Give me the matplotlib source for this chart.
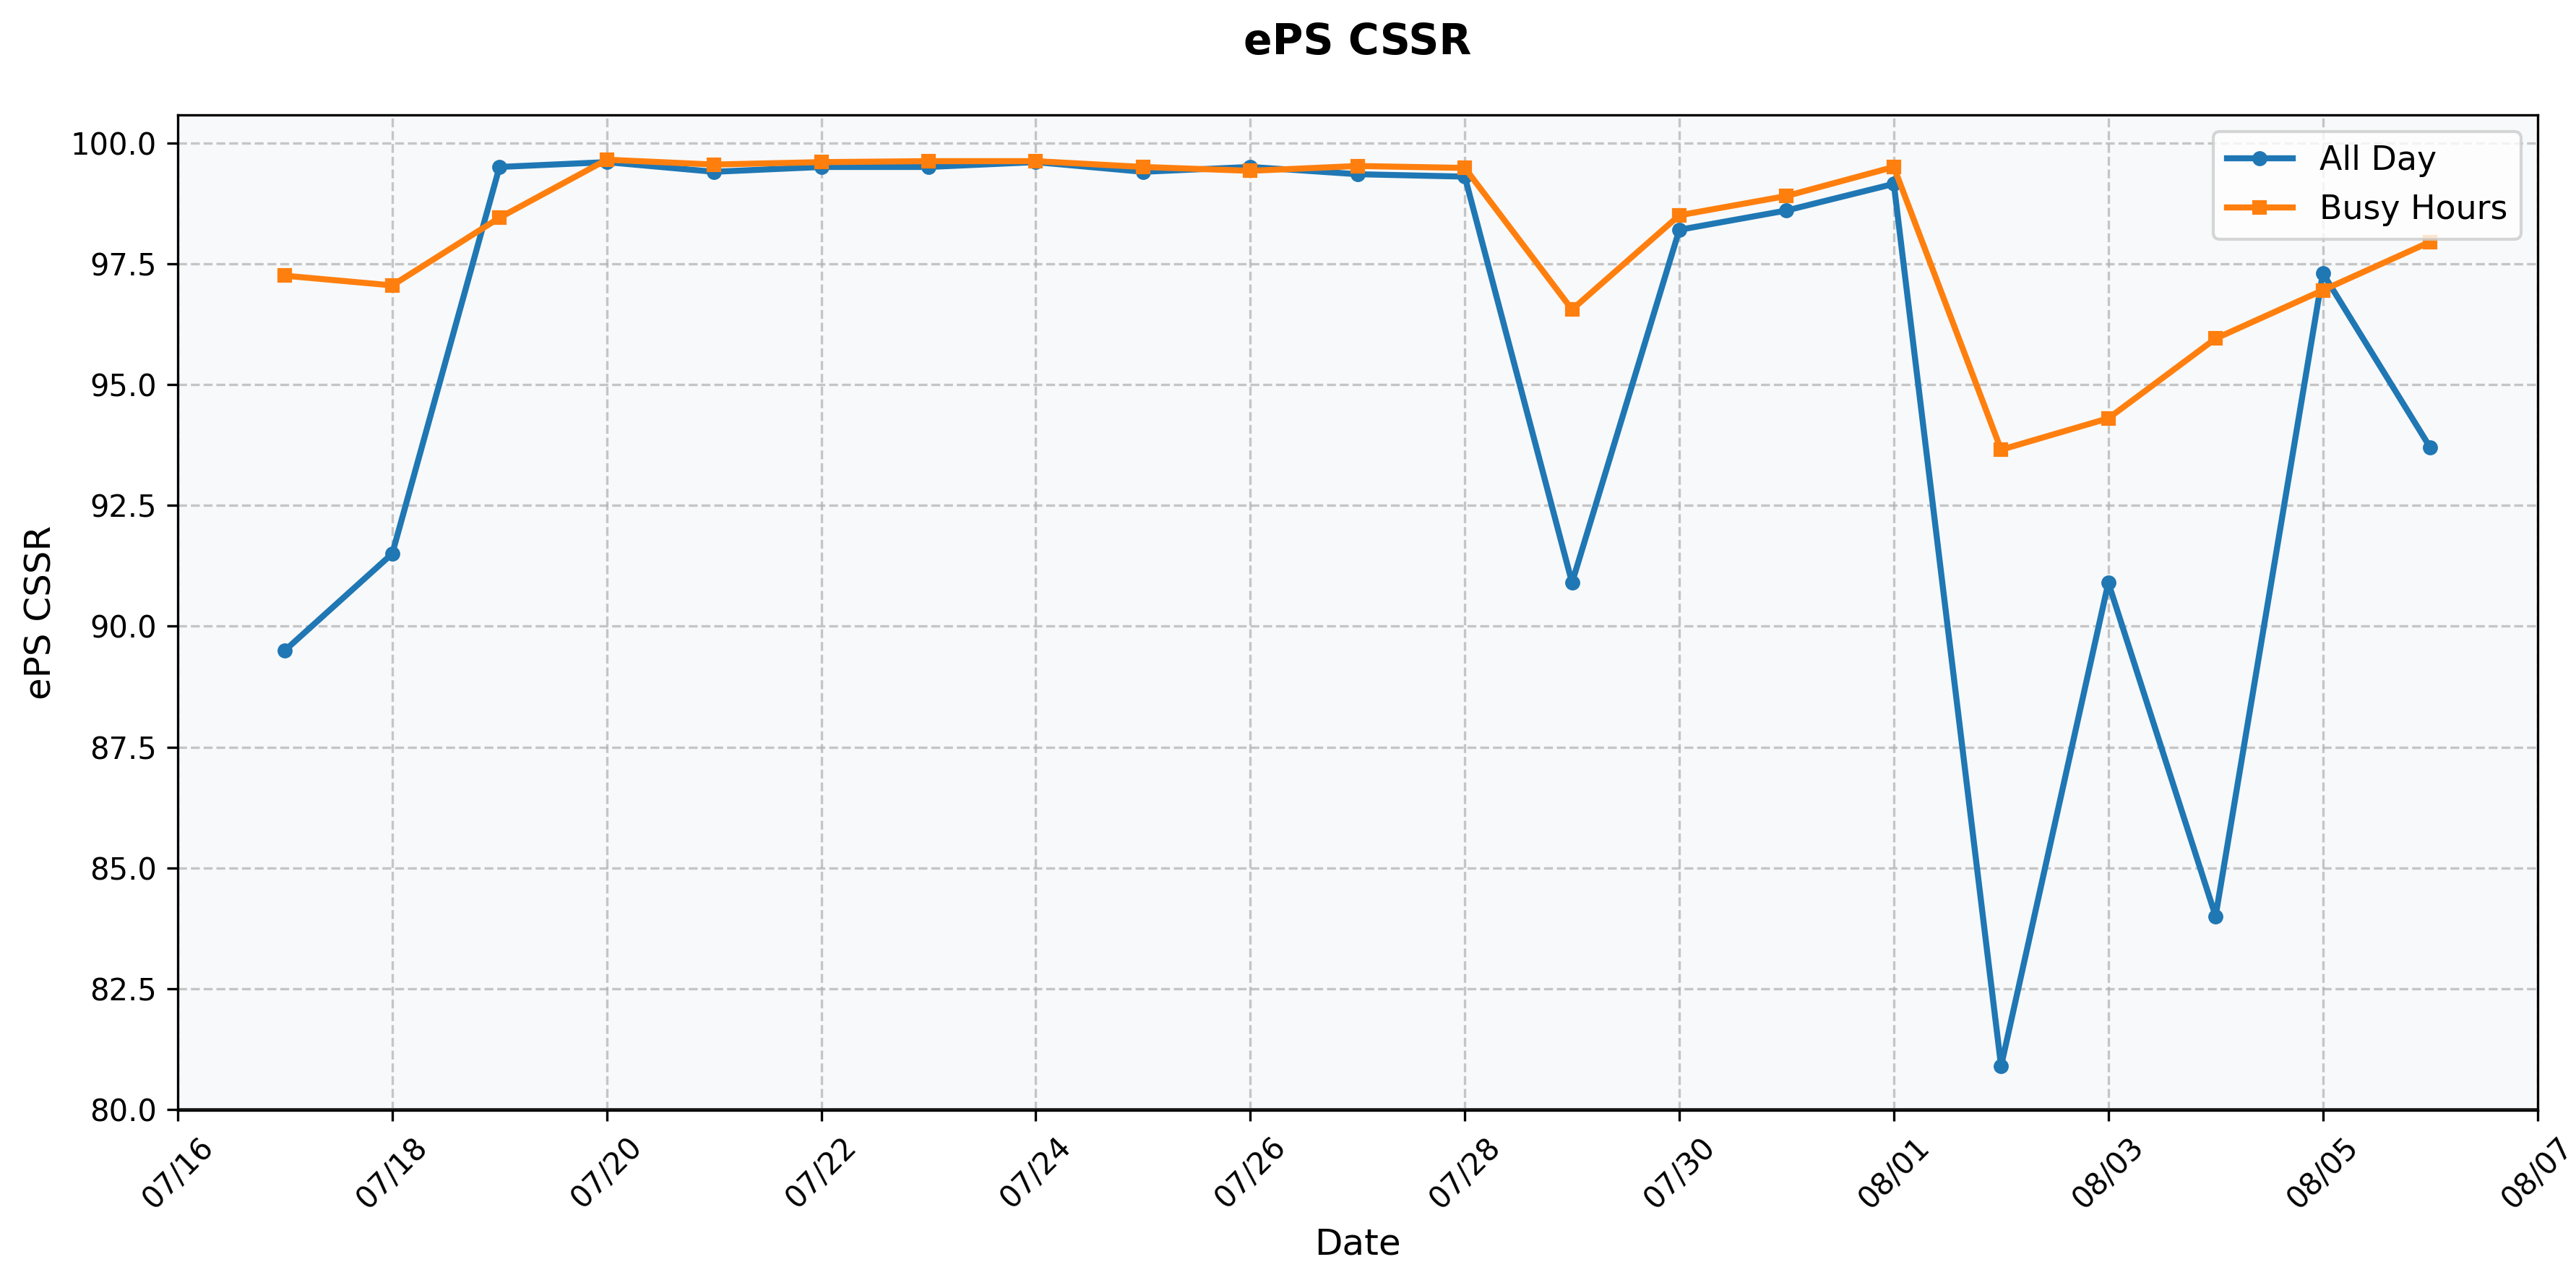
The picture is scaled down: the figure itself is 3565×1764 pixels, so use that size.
import matplotlib
matplotlib.use("Agg")
import matplotlib.pyplot as plt
import matplotlib.dates as mdates
import pandas as pd

dates = pd.date_range("2024-07-17", "2024-08-06", freq="D")
all_day = [89.5, 91.5, 99.5, 99.6, 99.4, 99.5, 99.5, 99.6, 99.4, 99.5, 99.35, 99.3,
           90.9, 98.2, 98.6, 99.15, 80.9, 90.9, 84.0, 97.3, 93.7]
busy = [97.25, 97.05, 98.45, 99.65, 99.55, 99.6, 99.62, 99.62, 99.5, 99.42, 99.52, 99.48,
        96.55, 98.5, 98.9, 99.5, 93.65, 94.3, 95.95, 96.95, 97.95]

fig, ax = plt.subplots(figsize=(3565/300, 1764/300), dpi=300)
ax.set_facecolor("#f8f9fa")
ax.plot(dates, all_day, "-o", color="#1f77b4", lw=2, ms=4, label="All Day")
ax.plot(dates, busy, "-s", color="#ff7f0e", lw=2, ms=4, label="Busy Hours")
ax.set_xlim(pd.Timestamp("2024-07-16"), pd.Timestamp("2024-08-07"))
ax.set_ylim(79.98, 100.58)
ax.set_xticks(pd.date_range("2024-07-16", "2024-08-07", freq="2D"))
ax.xaxis.set_major_formatter(mdates.DateFormatter("%m/%d"))
plt.setp(ax.get_xticklabels(), rotation=45)
ax.grid(True, linestyle="--", alpha=0.7)
ax.axhline(80, color="#333333", lw=1.2)
ax.set_xlabel("Date", fontsize=12)
ax.set_ylabel("ePS CSSR", fontsize=12)
ax.set_title("ePS CSSR", fontsize=14, fontweight="bold", pad=20)
ax.legend(loc="upper right", fontsize=11)
fig.subplots_adjust(left=0.069, right=0.985, top=0.910, bottom=0.129)
fig.savefig("out.png", dpi=300)
